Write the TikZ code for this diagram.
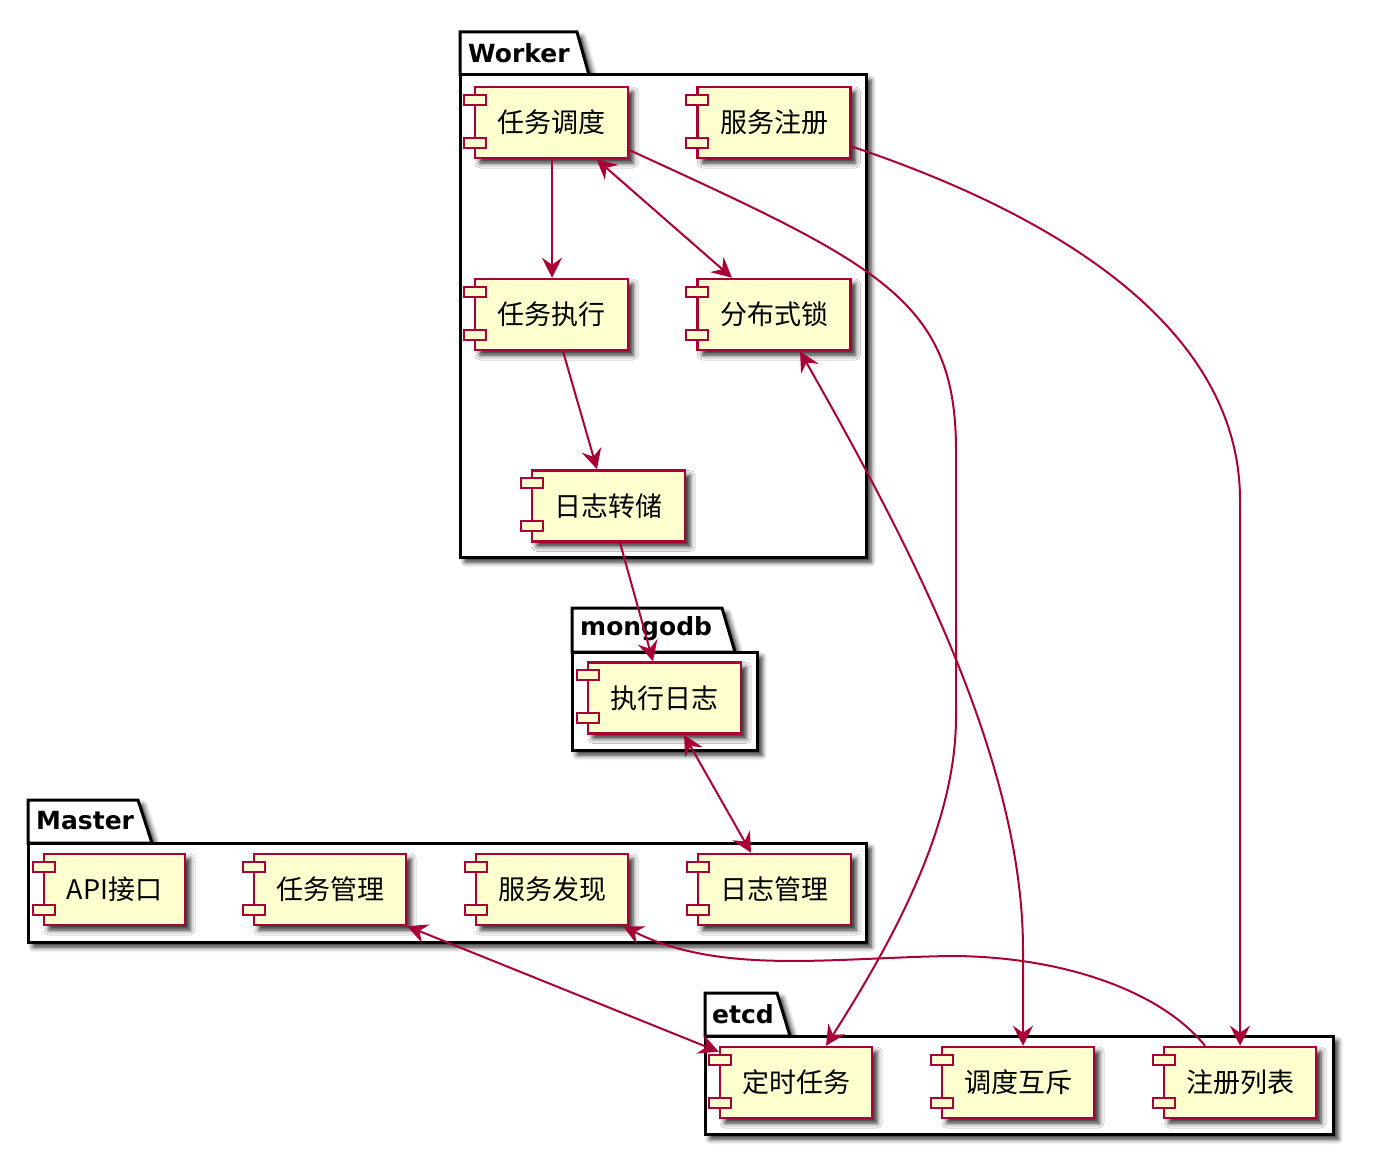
\documentclass[tikz,border=0pt]{standalone}
\usepackage{fontspec}
\setmainfont{Noto Sans CJK SC}
\newfontfamily\pkgfont{DejaVu Sans}
\usetikzlibrary{arrows.meta,calc,shadows.blur}
\definecolor{umlred}{HTML}{A80036}
\definecolor{umlfill}{HTML}{FEFECE}
\tikzset{umltip/.tip={Stealth[length=20pt,width=20pt,inset=7pt]}}
\begin{document}
\begin{tikzpicture}[x=1pt,y=-1pt,
  shd/.style={blur shadow={shadow xshift=5pt,shadow yshift=-5pt,shadow blur radius=5pt,shadow opacity=85}},
  pkg/.style={draw=black,line width=3pt,fill=white,shd},
  pkglabel/.style={font=\pkgfont\bfseries\fontsize{25}{30}\selectfont,inner sep=0pt,anchor=west},
  comp/.style={draw=umlred,fill=umlfill,line width=2.5pt,minimum width=153pt,minimum height=71pt,inner sep=0pt,
    font=\fontsize{27}{32}\selectfont,shd},
  comptab/.style={draw=umlred,fill=umlfill,line width=2.2pt},
  conn/.style={draw=umlred,line width=2pt},
]
\useasboundingbox (0,0) rectangle (1374,1156);

% packages
\draw[pkg] (460,75) -- (460,32) -- (577,32) -- (589,75) -- cycle;
\draw[pkg] (460,75) rectangle (866,557);
\node[pkglabel] (pW) at (468,53) {Worker};

\draw[pkg] (572,652) -- (572,608) -- (722,608) -- (735,652) -- cycle;
\draw[pkg] (572,652) rectangle (757,750);
\node[pkglabel] (pM) at (580,629) {mongodb};

\draw[pkg] (28,843) -- (28,800) -- (138,800) -- (152,843) -- cycle;
\draw[pkg] (28,843) rectangle (866,942);
\node[pkglabel] (pMa) at (36,821) {Master};

\draw[pkg] (705,1036) -- (705,993) -- (777,993) -- (790,1036) -- cycle;
\draw[pkg] (705,1036) rectangle (1333,1134);
\node[pkglabel] (pE) at (712,1014) {etcd};

% components
\node[comp] (rw1) at (551.5,122.5) {任务调度};
\node[comp] (rw2) at (774,122.5) {服务注册};
\node[comp] (rw3) at (551.5,314.5) {任务执行};
\node[comp] (rw4) at (774,314.5) {分布式锁};
\node[comp] (rw5) at (608.5,506) {日志转储};
\node[comp] (rm1) at (664.5,698) {执行日志};
\node[comp,minimum width=141pt] (ms1) at (114.5,889.5) {API接口};
\node[comp,minimum width=152pt] (ms2) at (330,889.5) {任务管理};
\node[comp,minimum width=152pt] (ms3) at (552,889.5) {服务发现};
\node[comp] (ms4) at (774.5,889.5) {日志管理};
\node[comp,minimum width=152pt] (e1) at (796,1082.5) {定时任务};
\node[comp,minimum width=152pt] (e2) at (1018,1082.5) {调度互斥};
\node[comp,minimum width=152pt] (e3) at (1240,1082.5) {注册列表};

\foreach \n in {rw1,rw2,rw3,rw4,rw5,rm1,ms1,ms2,ms3,ms4,e1,e2,e3}{
  \draw[comptab] ($(\n.north west)+(-10,9)$) rectangle ++(22,10);
  \draw[comptab] ($(\n.north west)+(-10,52)$) rectangle ++(22,10);
}

% connectors
\draw[conn,-umltip] ($(rw1.south)+(0.5,0)$) -- ($(rw3.north)+(0.5,0)$);
\draw[conn,umltip-umltip] ($(rw1.south)+(45,0)$) -- ($(rw4.north)+(-42,0)$);
\draw[conn,-umltip] ($(rw3.south)+(11.5,0)$) -- ($(rw5.north)+(-11.5,0)$);
\draw[conn,-umltip] ($(rw5.south)+(11.5,0)$) -- ($(rm1.north)+(-11.5,0)$);
\draw[conn,umltip-umltip] ($(rm1.south)+(19.5,0)$) -- ($(ms4.north)+(-23.5,0)$);
\draw[conn,-umltip] ($(rw1.east)+(0,27.5)$) .. controls (880,265) and (956,300) .. (956,450)
   -- (956,717) .. controls (956,820) and (900,930) .. ($(e1.north)+(30,0)$);
\draw[conn,umltip-umltip] ($(rw4.south)+(26,0)$) .. controls (910,545) and (1023,760) .. (1023,950)
   -- ($(e2.north)+(5,0)$);
\draw[conn,-umltip] ($(rw2.east)+(0,24)$) .. controls (1100,230) and (1240,350) .. (1240,500)
   -- (e3.north);
\draw[conn,umltip-umltip] (ms2.south east) -- ($(e1.north west)+(0,6)$);
\draw[conn,-umltip] ($(e3.north)+(-35,0)$) .. controls (1160,990) and (1060,956) .. (950,956)
   .. controls (830,958) and (720,975) .. ($(ms3.south east)+(-6,0)$);
\end{tikzpicture}
\end{document}
